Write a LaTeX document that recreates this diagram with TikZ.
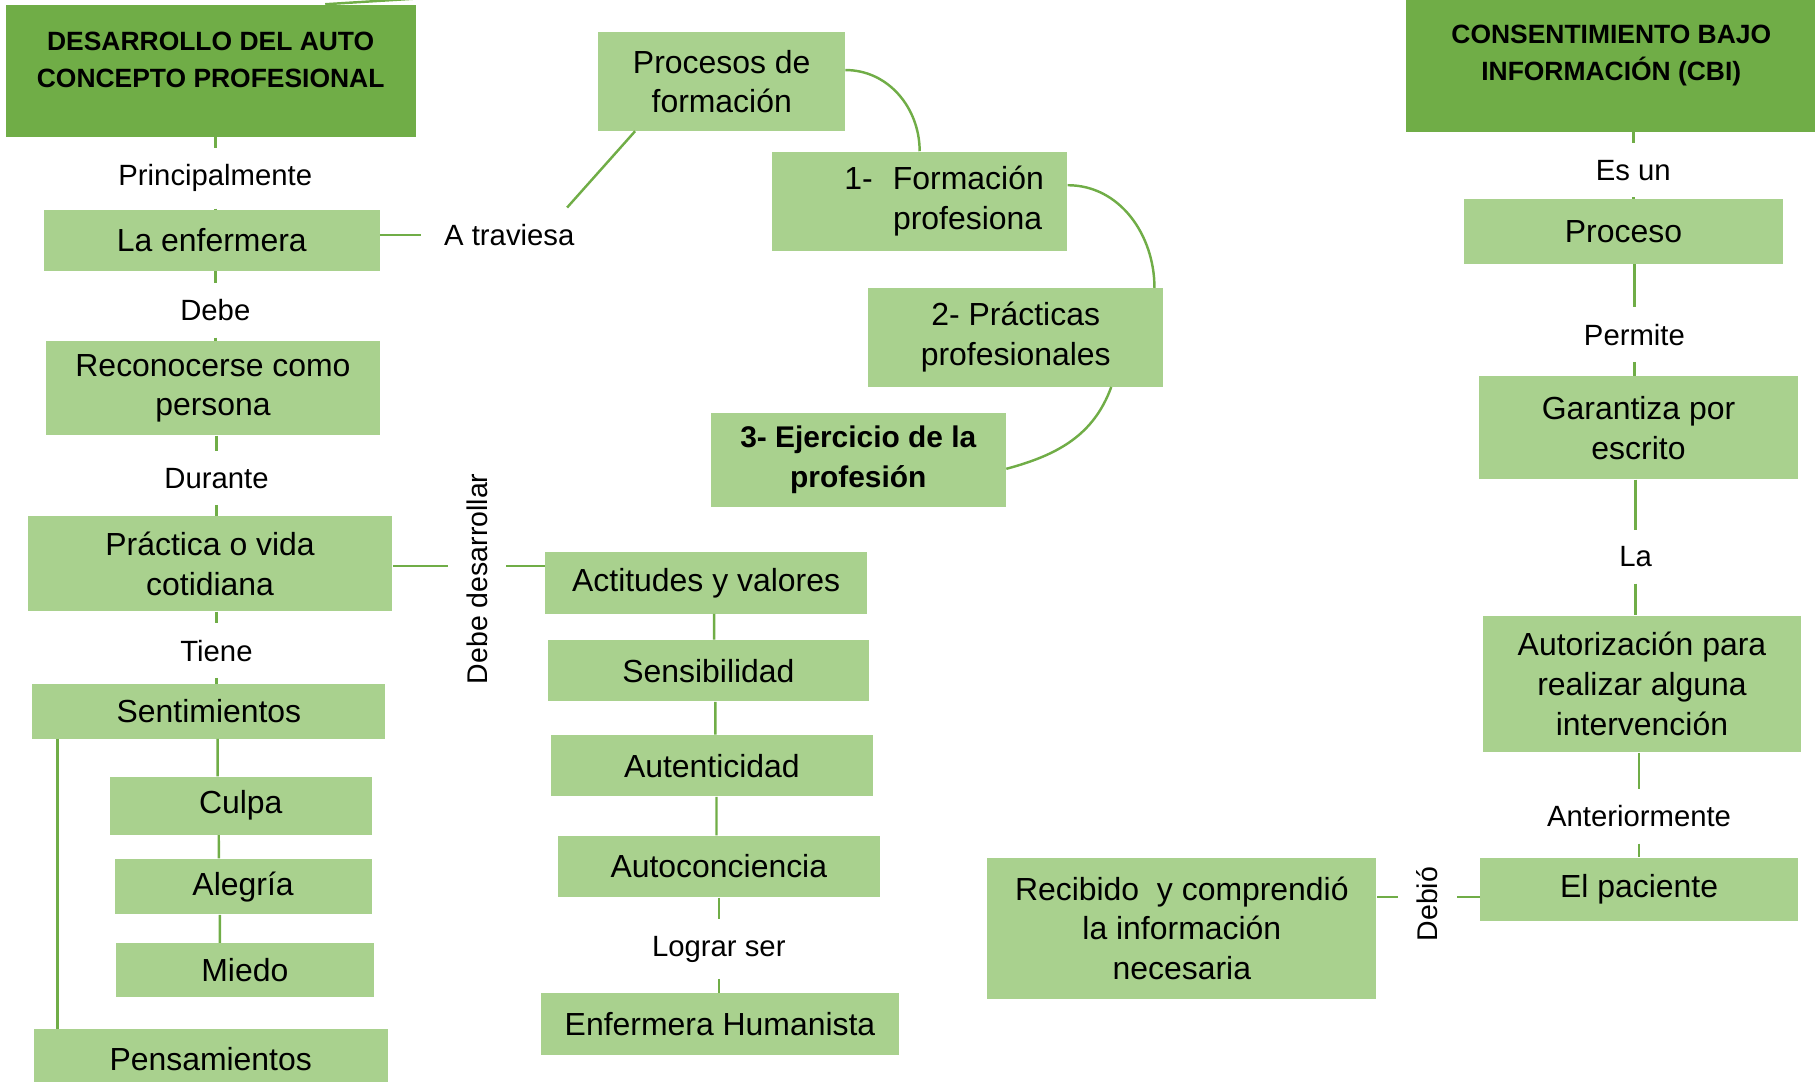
\documentclass[tikz,border=0pt]{standalone}
\usepackage{fontspec}
\setmainfont{Liberation Sans}
\usetikzlibrary{calc}

\definecolor{titlegreen}{HTML}{70AD47}
\definecolor{boxgreen}{HTML}{A9D18E}

\begin{document}
\begin{tikzpicture}[x=0.02cm,y=0.02cm,
    titlebox/.style={fill=titlegreen,draw=none,inner sep=0pt},
    titletext/.style={align=center,inner sep=0pt,font=\fontsize{13}{18.2}\selectfont\bfseries},
    box/.style={fill=boxgreen,draw=none,inner sep=0pt,align=center,
                font=\fontsize{15.7}{19.6}\selectfont},
    wh/.style 2 args={minimum width=#1*0.02cm,minimum height=#2*0.02cm},
    lbl/.style={inner sep=8pt,font=\fontsize{14.4}{17}\selectfont},
    vlbl/.style={inner sep=9pt,rotate=90,font=\fontsize{14}{17}\selectfont},
    link/.style={draw=titlegreen,line width=1.2pt}]

  \useasboundingbox (0,0) rectangle (1568,-934);

  % left column
  \node[titlebox,wh={354}{114}] (des) at (182,-61) {};
  \node[titletext] (destxt) at (182,-52) {DESARROLLO DEL AUTO\\CONCEPTO PROFESIONAL};
  \node[lbl] (princ) at (186,-154) {Principalmente};
  \node[box,wh={290}{53}] (enf) at (183,-207.5) {La enfermera};
  \node[lbl] (debe) at (186,-268) {Debe};
  \node[box,wh={288}{81}] (rec) at (184,-335.5) {Reconocerse como\\persona};
  \node[lbl] (dur) at (187,-413) {Durante};
  \node[box,wh={315}{82}] (vida) at (181.5,-487) {Práctica o vida\\cotidiana};
  \node[lbl] (tiene) at (187,-562) {Tiene};
  \node[box,wh={305}{47}] (sent) at (180.5,-614.5) {Sentimientos};
  \node[box,wh={226}{50}] (culpa) at (208,-696) {Culpa};
  \node[box,wh={222}{48}] (aleg) at (210,-766) {Alegría};
  \node[box,wh={223}{46}] (miedo) at (211.5,-838) {Miedo};
  \node[box,wh={306}{52}] (pens) at (182,-915) {Pensamientos};

  % formacion
  \node[lbl,inner xsep=11pt] (atr) at (440,-203) {A traviesa};
  \node[box,wh={213}{85}] (proc) at (623.5,-70.5) {Procesos de\\formación};
  \node[box,wh={255}{86}] (form) at (794.5,-174)
    {\begin{tabular}{@{\hspace{24pt}}l@{\hspace{10pt}}l@{}}1- & Formación\\ & profesiona\end{tabular}};
  \node[box,wh={255}{85}] (prac) at (877.5,-291.5) {2- Prácticas\\profesionales};
  \node[box,wh={255}{81},font=\fontsize{14.7}{19.6}\selectfont\bfseries] (ejer) at (741.5,-397.5)
    {3- Ejercicio de la\\profesión};

  % middle column
  \node[vlbl] (dd) at (412,-500) {Debe desarrollar};
  \node[box,wh={278}{53}] (act) at (610,-503.5) {Actitudes y valores};
  \node[box,wh={278}{53}] (sens) at (612,-579.5) {Sensibilidad};
  \node[box,wh={278}{53}] (aut) at (615,-661.5) {Autenticidad};
  \node[box,wh={278}{53}] (autoc) at (621,-748.5) {Autoconciencia};
  \node[lbl] (logr) at (621,-820) {Lograr ser};
  \node[box,wh={310}{53}] (enfh) at (622,-884.5) {Enfermera Humanista};

  % right column
  \node[titlebox,wh={354}{116}] (cbi) at (1392,-56) {};
  \node[titletext] (cbitxt) at (1392,-48) {CONSENTIMIENTO BAJO\\INFORMACIÓN (CBI)};
  \node[lbl] (esun) at (1411,-147) {Es un};
  \node[box,wh={275}{56}] (proce) at (1402.5,-200) {Proceso};
  \node[lbl] (perm) at (1412,-289) {Permite};
  \node[box,wh={275}{89}] (gar) at (1415.5,-369.5) {Garantiza por\\escrito};
  \node[lbl] (la) at (1413,-481) {La};
  \node[box,wh={275}{118}] (autz) at (1418.5,-591) {Autorización para\\realizar alguna\\intervención};
  \node[lbl] (ant) at (1416,-705) {Anteriormente};
  \node[box,wh={274}{55}] (pac) at (1416,-768.5) {El paciente};
  \node[vlbl] (debio) at (1233,-781) {Debió};
  \node[box,wh={336}{122}] (recib) at (1021,-802) {Recibido\ \ y comprendió\\la información\\necesaria};

  \coordinate (offdes) at (420,5);
  \coordinate (ddl) at ($(vida.east)+(0,-2)$);
  \coordinate (dbl) at ($(pac.west)+(0,-6.5)$);

  \draw[link] ([xshift=1.98cm]des.north) -- (offdes);
  \draw[link] (princ |- des.south) -- (princ) -- (princ |- enf.north);
  \draw[link] (debe |- enf.south) -- (debe) -- (debe |- rec.north);
  \draw[link] (dur |- rec.south) -- (dur) -- (dur |- vida.north);
  \draw[link] (tiene |- vida.south) -- (tiene) -- (tiene |- sent.north);
  \draw[link] ([xshift=0.15cm]sent.south) -- ([xshift=-0.4cm]culpa.north);
  \draw[link] ([xshift=-0.38cm]culpa.south) -- ([xshift=-0.42cm]aleg.north);
  \draw[link] ([xshift=-0.4cm]aleg.south) -- ([xshift=-0.43cm]miedo.north);
  \draw[link] ([xshift=0.44cm]sent.south west) -- ([xshift=0.42cm]pens.north west);

  \draw[link] (enf.east |- atr) -- (atr);
  \draw[link] ($(atr.north east)+(-26,0)$) -- ($(proc.south west)+(32,0)$);
  \draw[link] ($(proc.east)+(0,10)$) to[out=0,in=90] (form.north);
  \draw[link] ($(form.east)+(0,14)$) to[out=0,in=90] ($(prac.north east)+(-8,0)$);
  \draw[link] ($(prac.south)+(82.5,0)$) to[out=-110,in=15] ($(ejer.east)+(0,-7.5)$);

  \draw[link] (ddl) -- (ddl -| dd.north);
  \draw[link] (ddl -| dd.south) -- (ddl -| act.west);
  \draw[link] ([xshift=0.14cm]act.south) -- ([xshift=0.1cm]sens.north);
  \draw[link] ([xshift=0.12cm]sens.south) -- ([xshift=0.06cm]aut.north);
  \draw[link] ([xshift=0.08cm]aut.south) -- ([xshift=-0.04cm]autoc.north);
  \draw[link] (logr |- autoc.south) -- (logr) -- (logr |- enfh.north);

  \draw[link] (esun |- cbi.south) -- (esun) -- (esun |- proce.north);
  \draw[link] (perm |- proce.south) -- (perm) -- (perm |- gar.north);
  \draw[link] (la |- gar.south) -- (la) -- (la |- autz.north);
  \draw[link] (ant |- autz.south) -- (ant) -- (ant |- pac.north);
  \draw[link] (dbl) -- (dbl -| debio.south);
  \draw[link] (dbl -| debio.north) -- (dbl -| recib.east);
\end{tikzpicture}
\end{document}
